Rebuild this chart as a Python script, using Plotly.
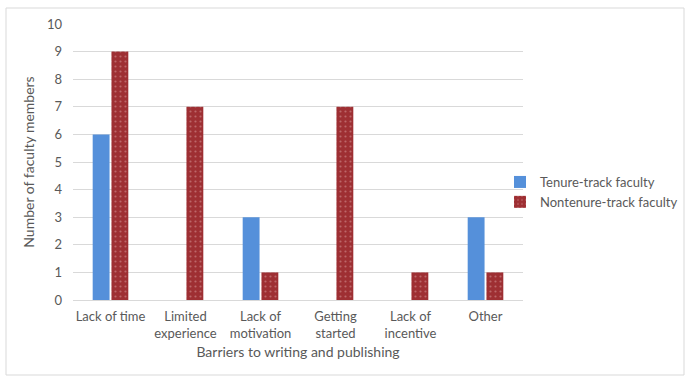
import plotly.graph_objects as go

categories = ["Lack of time", "Limited<br>experience", "Lack of<br>motivation", "Getting<br>started", "Lack of<br>incentive", "Other"]
tenure = [6, 0, 3, 0, 0, 3]
nontenure = [9, 7, 1, 7, 1, 1]
yticks = list(range(0, 11))

font_family = "Lato, 'Open Sans', sans-serif"
txt = "#595959"

fig = go.Figure()
fig.add_trace(go.Bar(
    x=categories, y=tenure, name="Tenure-track faculty",
    marker=dict(color="#5590DA", line=dict(width=0)),
))
fig.add_trace(go.Bar(
    x=categories, y=nontenure, name="Nontenure-track faculty",
    marker=dict(color="#9E2F33", line=dict(width=0),
                pattern=dict(shape=".", fgcolor="#D9A0A0", bgcolor="#9E2F33", size=5, solidity=0.15)),
))

fig.update_layout(
    width=700, height=389,
    margin=dict(l=73, r=177, t=24, b=89, autoexpand=False),
    paper_bgcolor="white", plot_bgcolor="white",
    font=dict(family=font_family, size=13, color=txt),
    barmode="group", bargap=0.5, bargroupgap=0.1,
    showlegend=True,
    legend=dict(x=(500 - 73) / 450, y=(300 - 192) / 276, xanchor="left", yanchor="middle",
                font=dict(size=13, color=txt), tracegroupgap=4,
                bgcolor="rgba(0,0,0,0)"),
    xaxis=dict(
        title=dict(text="Barriers to writing and publishing", font=dict(size=14, color=txt), standoff=7),
        showgrid=False, showline=True, linecolor="#D9D9D9", linewidth=1,
        tickfont=dict(size=13, color=txt), ticks="", automargin=False,
        ticklabelstandoff=4,
    ),
    yaxis=dict(
        title=dict(text="Number of faculty members", font=dict(size=14, color=txt), standoff=9),
        range=[0, 10], tickvals=yticks, showgrid=True, gridcolor="#D9D9D9", gridwidth=1,
        zeroline=False, showline=False, ticks="", tickfont=dict(size=13, color=txt),
        ticklabelstandoff=10, automargin=False,
    ),
    shapes=[dict(type="rect", xref="paper", yref="paper",
                 x0=-67/450, x1=611/450, y0=-(375-300)/276, y1=(300-8)/276,
                 line=dict(color="#D9D9D9", width=1), fillcolor="rgba(0,0,0,0)", layer="below")],
)

fig.write_html("out.html", config={"displayModeBar": False},
               post_script="document.body.style.margin='0';")
